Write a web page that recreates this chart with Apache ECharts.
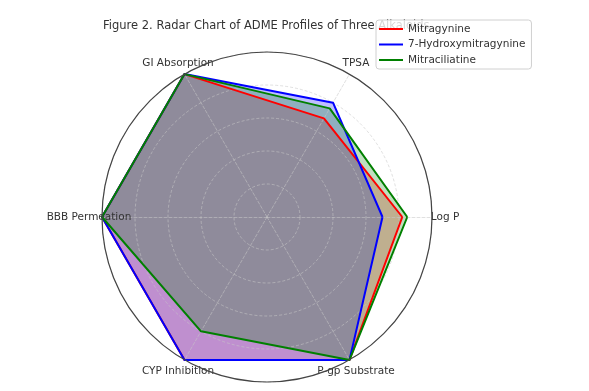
<!DOCTYPE html>
<html>
<head>
<meta charset="utf-8">
<script src="https://cdn.jsdelivr.net/npm/echarts@6/dist/echarts.min.js"></script>
<style>html,body{margin:0;padding:0;background:#fff;}#c{width:589px;height:391px;}</style>
</head>
<body>
<div id="c"></div>
<script>
const categories = ['Log P', 'TPSA', 'GI Absorption', 'BBB Permeation', 'CYP Inhibition', 'P-gp Substrate'];
const seriesNames = ['Mitragynine', '7-Hydroxymitragynine', 'Mitraciliatine'];
const mitragynine = [0.82, 0.69, 1.0, 1.0, 1.0, 1.0];
const hydroxymitragynine = [0.70, 0.80, 1.0, 1.0, 1.0, 1.0];
const mitraciliatine = [0.85, 0.76, 1.0, 1.0, 0.80, 1.0];
const colors = ['#ff0000', '#0000ff', '#008000'];
const valuesList = [mitragynine, hydroxymitragynine, mitraciliatine];

const FONT = 'DejaVu Sans';
const chart = echarts.init(document.getElementById('c'), null, {renderer: 'canvas'});
const indicator = categories.map(n => ({name: n, min: 0, max: 1}));
const center = [267, 217];
const radius = 165;

const areaData = valuesList.map((v, i) => ({
  value: v, name: seriesNames[i],
  lineStyle: {opacity: 0, width: 0},
  areaStyle: {color: colors[i], opacity: 0.25},
  itemStyle: {color: colors[i]}
}));
const lineData = valuesList.map((v, i) => ({
  value: v, name: seriesNames[i],
  lineStyle: {color: colors[i], width: 2},
  itemStyle: {color: colors[i]}
}));

chart.setOption({
  animation: false,
  backgroundColor: '#fff',
  color: colors,
  title: {
    text: 'Figure 2. Radar Chart of ADME Profiles of Three Alkaloids',
    left: 103, top: 20, padding: 0,
    textStyle: {fontFamily: FONT, fontSize: 11.5, fontWeight: 'normal', color: '#333'}
  },
  legend: {
    orient: 'vertical', left: 376, top: 20,
    padding: [3, 6, 3, 3], itemGap: 3.5,
    itemWidth: 24, itemHeight: 2, icon: 'rect',
    backgroundColor: 'rgba(255,255,255,0.8)', borderColor: '#d0d0d0', borderWidth: 1, borderRadius: 3,
    z: 10,
    textStyle: {fontFamily: FONT, fontSize: 10.5, color: '#333', lineHeight: 12},
    data: seriesNames
  },
  radar: [{
    center: center, radius: radius, startAngle: 0, shape: 'circle', splitNumber: 5,
    indicator: indicator, z: 2,
    nameGap: 13,
    axisName: {fontFamily: FONT, fontSize: 10.5, color: '#333', align: 'center', verticalAlign: 'middle'},
    splitArea: {show: false},
    splitLine: {lineStyle: {color: 'rgba(200,200,200,0.7)', width: 0.8, type: [3, 2]}},
    axisLine: {lineStyle: {color: 'rgba(200,200,200,0.7)', width: 0.8, type: [3, 2]}}
  }, {
    center: center, radius: radius, startAngle: 0, shape: 'circle', splitNumber: 1,
    indicator: indicator, z: 4,
    axisName: {show: false},
    splitArea: {show: false},
    splitLine: {lineStyle: {color: '#444', width: 1.2}},
    axisLine: {show: false}
  }],
  series: [{
    type: 'radar', radarIndex: 0, z: 1, symbol: 'none', silent: true,
    data: areaData
  }, {
    type: 'radar', radarIndex: 0, z: 3, symbol: 'none', name: 'lines',
    data: lineData
  }]
});
</script>
</body>
</html>
